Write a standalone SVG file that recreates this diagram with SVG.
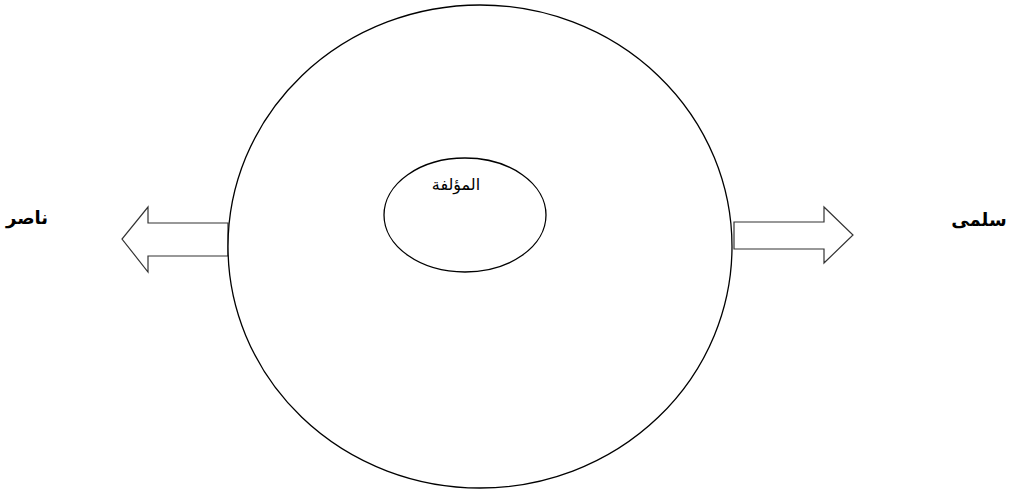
<svg xmlns="http://www.w3.org/2000/svg" width="1022" height="492" viewBox="0 0 1022 492">
<style>
.shape{fill:#fff;stroke:#000;stroke-width:1.3}
.arrow{fill:#fff;stroke:#333;stroke-width:1.2}
.lbl{font-family:"DejaVu Sans","Noto Sans",sans-serif;fill:#000;direction:rtl;text-anchor:middle}
.side{font-size:18px;font-weight:bold}
.inner{font-size:16px}
</style>
<rect width="1022" height="492" fill="#fff"/>
<g id="connectors">
<polygon class="arrow" points="228,223 148,223 148,207 122,239 148,272 148,256 228,256"/>
<polygon class="arrow" points="734,222 824,222 824,207 853,235 824,263 824,249 734,249"/>
</g>
<g id="outer">
<ellipse class="shape" cx="480" cy="246.5" rx="252" ry="241.5"/>
</g>
<g id="author">
<ellipse class="shape" cx="465" cy="215" rx="81" ry="57"/>
<text class="lbl inner" x="456" y="190">المؤلفة</text>
</g>
<g id="nasser">
<text class="lbl side" x="27" y="224">ناصر</text>
</g>
<g id="salma">
<text class="lbl side" x="979" y="226">سلمى</text>
</g>
</svg>
